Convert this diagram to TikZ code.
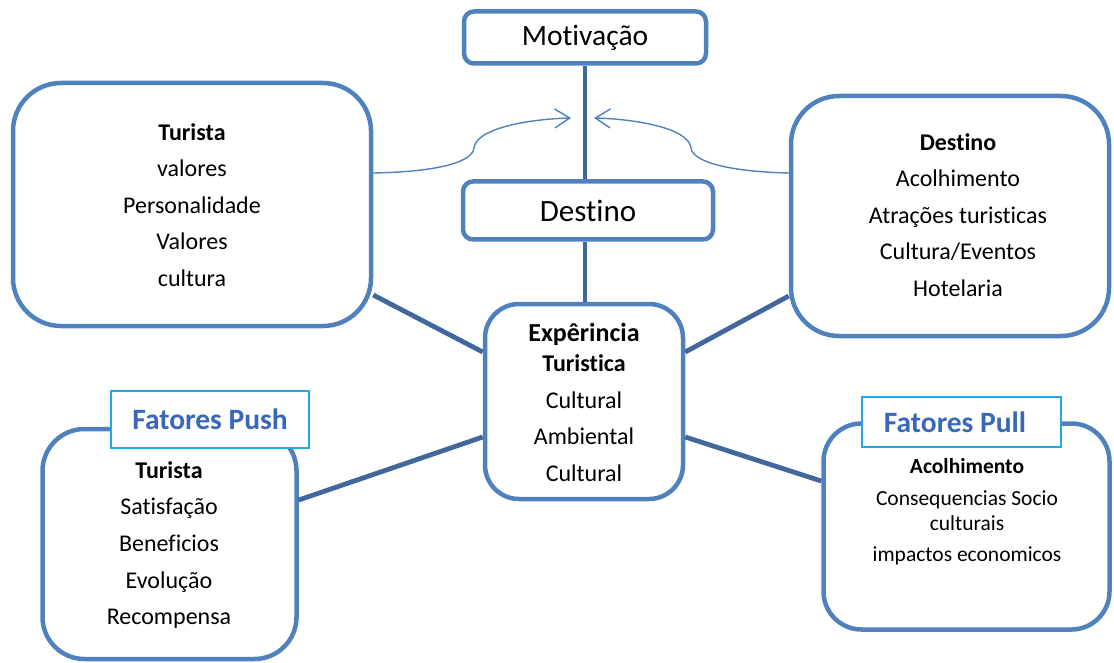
\documentclass[tikz,border=0pt]{standalone}
\usepackage{fontspec}
\setmainfont{Carlito}[Ligatures={NoCommon}]
\usetikzlibrary{arrows.meta}
\definecolor{boxblue}{HTML}{4F81BD}
\definecolor{linkblue}{HTML}{41689C}
\definecolor{labcyan}{HTML}{22A8E2}
\definecolor{labblue}{HTML}{3A68B8}
\tikzset{
  box/.style={draw=boxblue, line width=4.5pt, fill=white, align=center, inner sep=0pt},
  link/.style={draw=linkblue, line width=4.8pt},
  curvy/.style={draw=boxblue, line width=1.4pt, -{Straight Barb[length=15pt,width=19pt,line width=1.4pt]}},
  labbox/.style={draw=labcyan, line width=1.3pt, fill=white, inner sep=0pt},
  labtext/.style={text=labblue, font=\fontsize{29.5}{31}\selectfont\bfseries},
  txt/.style={align=center, inner sep=0pt}
}
\begin{document}
\begin{tikzpicture}[x=1pt,y=-1pt]
\useasboundingbox (0,0) rectangle (1114,663);
% boxes
\node[box, rounded corners=10pt, minimum width=242pt, minimum height=52pt] (mot) at (585,37.5) {};
\node[box, rounded corners=10pt, minimum width=250pt, minimum height=58pt] (dest) at (588,210.5) {};
\node[box, rounded corners=48pt, minimum width=358pt, minimum height=243pt] (tur) at (192,204.5) {};
\node[box, rounded corners=48pt, minimum width=318pt, minimum height=240pt] (dd) at (950,216) {};
\node[box, rounded corners=34pt, minimum width=198pt, minimum height=195pt] (exp) at (584,401.5) {};
\node[box, rounded corners=42pt, minimum width=254pt, minimum height=230pt] (push) at (169.5,544) {};
\node[box, rounded corners=38pt, minimum width=286pt, minimum height=206pt] (pull) at (966.5,526.5) {};
% links
\draw[link] (mot.south) -- (mot.south |- dest.north);
\draw[link] ([xshift=1pt]exp.north |- dest.south) -- ([xshift=1pt]exp.north);
\draw[link] (tur.east |- 0,295) -- (exp.west |- 0,352);
\draw[link] (push.east |- 0,500) -- (exp.west |- 0,437);
\draw[link] (exp.east |- 0,352) -- (dd.west |- 0,296);
\draw[link] (exp.east |- 0,437) -- (pull.west |- 0,481);
% curvy arrows
\coordinate (tipL) at (571,118);
\coordinate (tipR) at (594,118);
\draw[curvy] (tur.east |- 0,173) .. controls (430,172) and (472,164) .. (474,148) .. controls (476,128) and (530,119) .. (tipL);
\draw[curvy] (dd.west |- 0,173) .. controls (739,172) and (693,164) .. (691,148) .. controls (689,128) and (635,119) .. (tipR);
% texts
\node[txt, font=\fontsize{29.5}{31}\selectfont] (motT) at (mot.center) {Motivação};
\node[txt, font=\fontsize{31}{33}\selectfont] (destT) at (dest.center) {Destino};
\node[txt, font=\fontsize{24}{36.6}\selectfont] (turT) at (192,205) {\textbf{Turista}\\valores\\Personalidade\\Valores\\cultura};
\node[txt, font=\fontsize{24}{36.6}\selectfont] (ddT) at (958,215) {\textbf{Destino}\\Acolhimento\\Atrações turisticas\\Cultura/Eventos\\Hotelaria};
\node[txt, font=\fontsize{24}{36.6}\selectfont] (expT) at (584,402.5) {\fontsize{26}{30}\selectfont\textbf{Expêrincia}\\[-7pt]\textbf{Turistica}\\\fontsize{24}{36.6}\selectfont Cultural\\Ambiental\\Cultural};
\node[txt, font=\fontsize{24}{36.6}\selectfont] (pushT) at (169,545) {\textbf{Turista}\\Satisfação\\Beneficios\\Evolução\\Recompensa};
\node[txt, font=\fontsize{21.5}{31}\selectfont] (pullT) at (967,511.5) {\textbf{Acolhimento}\\[1.5pt]Consequencias Socio\\[-6pt]culturais\\impactos economicos};
% labels
\node[labbox, minimum width=198pt, minimum height=57pt] (pushL) at (210,419.5) {};
\node[labtext] (pushLT) at (pushL.center) {Fatores Push};
\node[labbox, minimum width=199pt, minimum height=50pt] (pullL) at (961.5,422) {};
\node[labtext, anchor=west] (pullLT) at ([xshift=19pt]pullL.west) {Fatores Pull};
\end{tikzpicture}
\end{document}
